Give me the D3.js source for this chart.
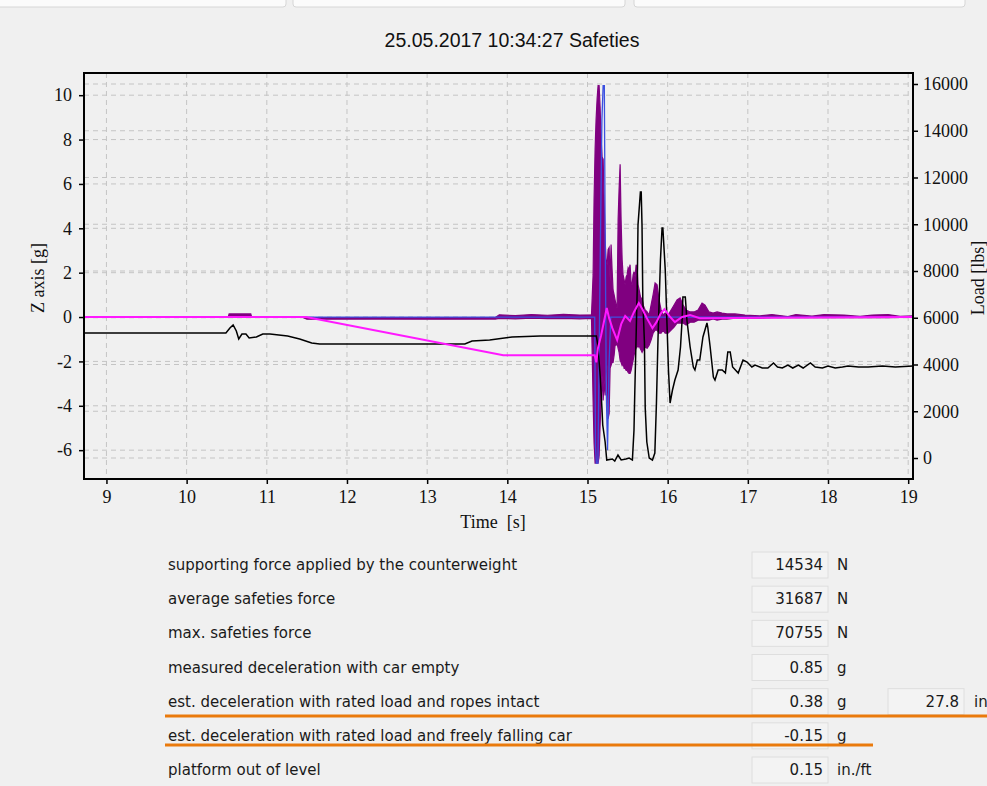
<!DOCTYPE html>
<html>
<head>
<meta charset="utf-8">
<script src="https://cdn.jsdelivr.net/npm/d3@7/dist/d3.min.js"></script>
<style>
  body { margin: 0; background: #f0f0f0; }
  svg { display: block; }
</style>
</head>
<body>
<div id="chart"></div>
<script>
const chartTitle = '25.05.2017 10:34:27 Safeties';
const timeTicks = [9, 10, 11, 12, 13, 14, 15, 16, 17, 18, 19];
const accelTicks = [-6, -4, -2, 0, 2, 4, 6, 8, 10];
const loadTicks = [0, 2000, 4000, 6000, 8000, 10000, 12000, 14000, 16000];

// load cell signal [lbs] (right axis)
const loadTime = [8.72, 10.49, 10.54, 10.58, 10.62, 10.65, 10.69, 10.74, 10.78, 10.87, 10.95, 11.04, 11.26, 11.41, 11.56, 11.66,
  12.41, 13.16, 13.47, 13.56, 13.78, 14.06, 14.41, 15.06, 15.11, 15.13, 15.16, 15.18, 15.19, 15.22, 15.24, 15.31, 15.34,
  15.38, 15.42, 15.48, 15.52, 15.56, 15.58, 15.59, 15.62, 15.63, 15.66, 15.67, 15.68, 15.69, 15.71, 15.72, 15.74, 15.77,
  15.81, 15.84, 15.86, 15.88, 15.91, 15.93, 15.94, 15.97, 15.99, 16.01, 16.03, 16.06, 16.09, 16.13, 16.16, 16.18, 16.19,
  16.22, 16.24, 16.28, 16.32, 16.34, 16.37, 16.40, 16.44, 16.49, 16.50, 16.53, 16.57, 16.59, 16.63, 16.68, 16.72, 16.75,
  16.78, 16.81, 16.88, 16.94, 16.99, 17.05, 17.09, 17.18, 17.25, 17.32, 17.37, 17.43, 17.50, 17.56, 17.63, 17.69, 17.78,
  17.84, 17.93, 18.00, 18.09, 18.18, 18.25, 18.38, 18.50, 18.68, 18.84, 19.06];
const loadValue = [5348, 5348, 5561, 5690, 5433, 5091, 5305, 5305, 5134, 5176, 5305, 5305, 5219, 5091, 4920, 4877,
  4877, 4877, 4877, 5005, 5048, 5176, 5219, 5219, 5219, 4834, 3422, 2139, 1412, 684, -86, -43, -128,
  128, -86, -43, 0, -86, 1198, 2823, 7187, 9968, 11380, 11380, 9968, 6759, 4962, 2139, 684, 0,
  -86, 214, 2353, 5176, 8470, 9839, 9839, 8043, 5904, 3765, 2353, 2909, 3337, 3765, 4749, 5904, 6888,
  6888, 5904, 4749, 3893, 3765, 4192, 4192, 5176, 5775, 5604, 4749, 3465, 3337, 3765, 3765, 3636, 4535,
  4535, 3893, 3636, 4192, 4107, 3893, 3979, 3850, 3850, 4064, 3893, 3850, 3979, 3850, 3979, 3850, 4064,
  3893, 3850, 3936, 3850, 3893, 3936, 3893, 3893, 3936, 3893, 3936];

// Z axis acceleration [g] (left axis), band between high and low readings
const accelTime = [8.72, 10.52, 10.53, 10.80, 10.81, 11.45, 11.50, 12.40, 13.10, 13.85, 13.90, 14.10, 14.30, 14.50, 14.70, 14.90, 15.05,
  15.070, 15.082, 15.095, 15.107, 15.120, 15.132, 15.145, 15.157, 15.170, 15.182, 15.195, 15.207, 15.220, 15.232, 15.245,
  15.257, 15.270, 15.282, 15.294, 15.307, 15.319, 15.332, 15.344, 15.357, 15.369, 15.382, 15.394, 15.407, 15.419, 15.432,
  15.444, 15.457, 15.469, 15.482, 15.494, 15.507, 15.519, 15.531, 15.544, 15.556, 15.569, 15.581, 15.594, 15.606, 15.619,
  15.631, 15.644, 15.656, 15.669, 15.681, 15.694, 15.719, 15.744, 15.769, 15.793, 15.818, 15.843, 15.868, 15.893, 15.918,
  15.943, 15.968, 16.005, 16.043, 16.080, 16.117, 16.155, 16.192, 16.230, 16.280, 16.330, 16.379, 16.429, 16.466, 16.516,
  16.566, 16.616, 16.678, 16.740, 16.840, 16.964, 17.15, 17.30, 17.50, 17.60, 17.80, 17.95, 18.20, 18.40, 18.55, 18.75, 18.90, 19.06];
const accelHigh = [0.02, 0.02, 0.14, 0.14, 0.02, 0.02, -0.02, -0.03, -0.02, -0.02, 0.10, 0.06, 0.11, 0.08, 0.12, 0.09, 0.10,
  1.90, 5.31, 7.57, 8.89, 9.84, 10.43, 10.43, 9.48, 8.03, 7.21, 7.12, 5.31, 3.45, 2.59, 2.36,
  3.04, 3.13, 1.59, 3.27, 2.13, 1.22, 1.00, 0.77, 0.54, 0.41, 4.40, 5.76, 6.89, 4.40, 2.59,
  1.90, 1.68, 1.45, 1.81, 1.90, 2.22, 2.13, 2.36, 1.54, 1.45, 1.90, 2.04, 1.81, 2.36, 2.22,
  1.45, 1.22, 1.00, 0.77, 0.86, 0.54, 0.32, 0.23, 0.09, 0.54, 1.00, 1.54, 1.45, 0.77, 0.32,
  0.09, 0.18, 0.09, 0.32, 0.54, 0.77, 0.86, 0.54, 0.32, 0.23, 0.23, 0.32, 0.63, 0.54, 0.23,
  0.18, 0.23, 0.18, 0.14, 0.14, 0.09, 0.05, 0.11, 0.02, 0.11, 0.04, 0.11, 0.09, 0.03, 0.09, 0.11, 0.03, 0.05];
const accelLow = [-0.02, -0.02, 0.05, 0.05, -0.02, -0.02, -0.10, -0.09, -0.10, -0.09, -0.06, -0.08, -0.05, -0.07, -0.06, -0.08, -0.06,
  -3.76, -5.67, -6.58, -6.58, -6.58, -6.58, -6.26, -4.90, -3.76, -2.63, -3.76, -2.86, -3.54, -2.40, -2.18,
  -4.58, -4.35, -2.31, -2.18, -2.04, -2.04, -1.72, -1.27, -1.27, -1.18, -1.41, -1.59, -1.95, -2.04, -2.18,
  -2.09, -2.31, -2.31, -2.40, -2.40, -2.49, -2.54, -2.54, -2.40, -2.18, -1.95, -1.72, -1.50, -1.41, -1.27,
  -1.36, -1.27, -1.41, -1.50, -1.59, -1.50, -1.36, -1.41, -1.27, -1.04, -0.73, -0.59, -0.59, -0.73, -0.73,
  -0.59, -0.73, -0.73, -0.59, -0.45, -0.27, -0.27, -0.27, -0.36, -0.23, -0.23, -0.14, -0.14, -0.14, -0.14,
  -0.09, -0.14, -0.09, -0.09, -0.05, -0.05, -0.05, -0.03, -0.02, -0.03, -0.02, -0.03, -0.03, -0.02, -0.03, -0.03, -0.02, -0.02];

// second acceleration channel [g] (left axis)
const accel2Time = [8.72, 15.09, 15.10, 15.11, 15.13, 15.16, 15.18, 15.195, 15.21, 15.22, 15.235, 15.25, 15.27, 15.29, 19.06];
const accel2Value = [0, 0, -5.8, -6.58, -6.58, 3.0, 8.9, 10.43, 10.43, 4.0, -3.5, -6.0, -2.0, 0, 0];

// integrated speed (left axis)
const speedTime = [8.72, 11.49, 13.95, 15.09, 15.11, 15.13, 15.17, 15.22, 15.24, 15.27, 15.31, 15.37, 15.42, 15.47, 15.53,
  15.58, 15.64, 15.69, 15.74, 15.81, 15.86, 15.91, 15.96, 16.02, 16.09, 16.18, 16.28, 16.40, 19.06];
const speedValue = [0, 0, -1.72, -1.72, -2.04, -1.41, -0.82, 0.05, 0.41, -0.05, -0.50, -1.04, -0.32, 0.05, -0.18,
  0.23, 0.63, 0.32, -0.05, -0.50, -0.23, 0.14, 0.36, 0.05, -0.23, 0, 0.09, -0.05, 0];

const resultLabels = [
  'supporting force applied by the counterweight',
  'average safeties force',
  'max. safeties force',
  'measured deceleration with car empty',
  'est. deceleration with rated load and ropes intact',
  'est. deceleration with rated load and freely falling car',
  'platform out of level'
];
const resultValues = ['14534', '31687', '70755', '0.85', '0.38', '-0.15', '0.15'];
const resultUnits = ['N', 'N', 'N', 'g', 'g', 'g', 'in./ft'];
const stopDistance = '27.8';
const stopDistanceUnit = 'in';

const W = 987, H = 786;
const plot = { left: 84, top: 73, right: 913, bottom: 479 };

const svg = d3.select('#chart').append('svg')
  .attr('width', W)
  .attr('height', H)
  .style('font-family', '"Liberation Sans", Arial, sans-serif');

// tab strip at the top
[[-4, 286], [293, 625], [634, 965]].forEach(([a, b]) => {
  svg.append('rect')
    .attr('x', a).attr('y', -6).attr('width', b - a).attr('height', 13).attr('rx', 3)
    .attr('fill', '#fbfbfb').attr('stroke', '#d6d6d6');
});

svg.append('text')
  .attr('x', 512).attr('y', 47)
  .attr('text-anchor', 'middle')
  .attr('font-size', 19.5)
  .attr('fill', '#111')
  .text(chartTitle);

// scales
const x = d3.scaleLinear().domain([8.72, 19.06]).range([plot.left, plot.right]);
const yL = d3.scaleLinear().domain([-7.3, 11.0]).range([plot.bottom, plot.top]);
const yR = d3.scaleLinear().domain([-898, 16470]).range([plot.bottom, plot.top]);

// dashed grid
const grid = svg.append('g').attr('stroke', '#c4c4c4').attr('stroke-dasharray', '5,4').attr('stroke-width', 1);
timeTicks.forEach(t => {
  grid.append('line').attr('x1', x(t)).attr('x2', x(t)).attr('y1', plot.top).attr('y2', plot.bottom);
});
accelTicks.forEach(v => {
  grid.append('line').attr('x1', plot.left).attr('x2', plot.right).attr('y1', yL(v)).attr('y2', yL(v));
});
loadTicks.forEach(v => {
  grid.append('line').attr('x1', plot.left).attr('x2', plot.right).attr('y1', yR(v)).attr('y2', yR(v));
});

// series
svg.append('clipPath').attr('id', 'clip')
  .append('rect').attr('x', plot.left).attr('y', plot.top)
  .attr('width', plot.right - plot.left).attr('height', plot.bottom - plot.top);
const series = svg.append('g').attr('clip-path', 'url(#clip)');

const accelArea = d3.area()
  .x((d, i) => x(accelTime[i]))
  .y0((d, i) => yL(accelLow[i]))
  .y1((d, i) => yL(accelHigh[i]));
series.append('path')
  .attr('d', accelArea(accelTime))
  .attr('fill', '#800080')
  .attr('stroke', '#800080')
  .attr('stroke-width', 1.2);

const lineOf = (ts, vs, scale) => d3.line().x((d, i) => x(ts[i])).y((d, i) => scale(vs[i]))(ts);

series.append('path')
  .attr('d', lineOf(accel2Time, accel2Value, yL))
  .attr('fill', 'none').attr('stroke', '#3c50e0').attr('stroke-width', 1.3);

series.append('path')
  .attr('d', lineOf(loadTime, loadValue, yR))
  .attr('fill', 'none').attr('stroke', '#000').attr('stroke-width', 1.5);

series.append('path')
  .attr('d', lineOf(speedTime, speedValue, yL))
  .attr('fill', 'none').attr('stroke', '#ff19ff').attr('stroke-width', 2);

// frame
svg.append('rect')
  .attr('x', plot.left).attr('y', plot.top)
  .attr('width', plot.right - plot.left).attr('height', plot.bottom - plot.top)
  .attr('fill', 'none').attr('stroke', '#000').attr('stroke-width', 2);

// axes
const axisFont = '"Liberation Serif", "Times New Roman", serif';
const styleAxis = g => {
  g.select('.domain').remove();
  g.selectAll('.tick line').attr('stroke', '#000').attr('stroke-width', 1.5);
  g.selectAll('.tick text').attr('fill', '#111').attr('font-family', axisFont).attr('font-size', 18);
};
const plain = d => String(d);

svg.append('g')
  .attr('transform', `translate(${plot.left},0)`)
  .call(d3.axisLeft(yL).tickValues(accelTicks).tickFormat(plain).tickSize(5).tickPadding(7))
  .call(styleAxis);

svg.append('g')
  .attr('transform', `translate(${plot.right},0)`)
  .call(d3.axisRight(yR).tickValues(loadTicks).tickFormat(plain).tickSize(5).tickPadding(5))
  .call(styleAxis);

svg.append('g')
  .attr('transform', `translate(0,${plot.bottom})`)
  .call(d3.axisBottom(x).tickValues(timeTicks).tickFormat(plain).tickSize(5).tickPadding(6))
  .call(styleAxis);

svg.append('text')
  .attr('x', 493).attr('y', 528)
  .attr('text-anchor', 'middle')
  .attr('font-family', axisFont).attr('font-size', 18).attr('fill', '#111')
  .attr('xml:space', 'preserve')
  .text('Time  [s]');

svg.append('text')
  .attr('transform', 'translate(44,278) rotate(-90)')
  .attr('text-anchor', 'middle')
  .attr('font-family', axisFont).attr('font-size', 18).attr('fill', '#111')
  .text('Z axis [g]');

svg.append('text')
  .attr('transform', 'translate(984,278) rotate(-90)')
  .attr('text-anchor', 'middle')
  .attr('font-family', axisFont).attr('font-size', 18).attr('fill', '#111')
  .text('Load [lbs]');

// results table
const row = d3.scaleLinear().domain([0, resultLabels.length - 1]).range([565, 770]);
const table = svg.append('g')
  .attr('font-family', '"DejaVu Sans", Verdana, sans-serif')
  .attr('font-size', 15).attr('fill', '#1a1a1a');

resultLabels.forEach((label, i) => {
  const cy = row(i);
  table.append('text').attr('x', 168).attr('y', cy + 5).text(label);
  table.append('rect')
    .attr('x', 752).attr('y', cy - 13).attr('width', 76).attr('height', 26)
    .attr('fill', '#f3f3f3').attr('stroke', '#dedede');
  table.append('text').attr('x', 823).attr('y', cy + 5).attr('text-anchor', 'end').text(resultValues[i]);
  table.append('text').attr('x', 837).attr('y', cy + 5).text(resultUnits[i]);
});

const r4 = row(4);
table.append('rect')
  .attr('x', 888).attr('y', r4 - 13).attr('width', 76).attr('height', 26)
  .attr('fill', '#f3f3f3').attr('stroke', '#dedede');
table.append('text').attr('x', 959).attr('y', r4 + 5).attr('text-anchor', 'end').text(stopDistance);
table.append('text').attr('x', 974).attr('y', r4 + 5).text(stopDistanceUnit);

// highlight marks
svg.append('line').attr('x1', 165).attr('x2', 987).attr('y1', 716).attr('y2', 716)
  .attr('stroke', '#ea7a0c').attr('stroke-width', 3);
svg.append('line').attr('x1', 165).attr('x2', 873).attr('y1', 745).attr('y2', 745)
  .attr('stroke', '#ea7a0c').attr('stroke-width', 3);
</script>
</body>
</html>
